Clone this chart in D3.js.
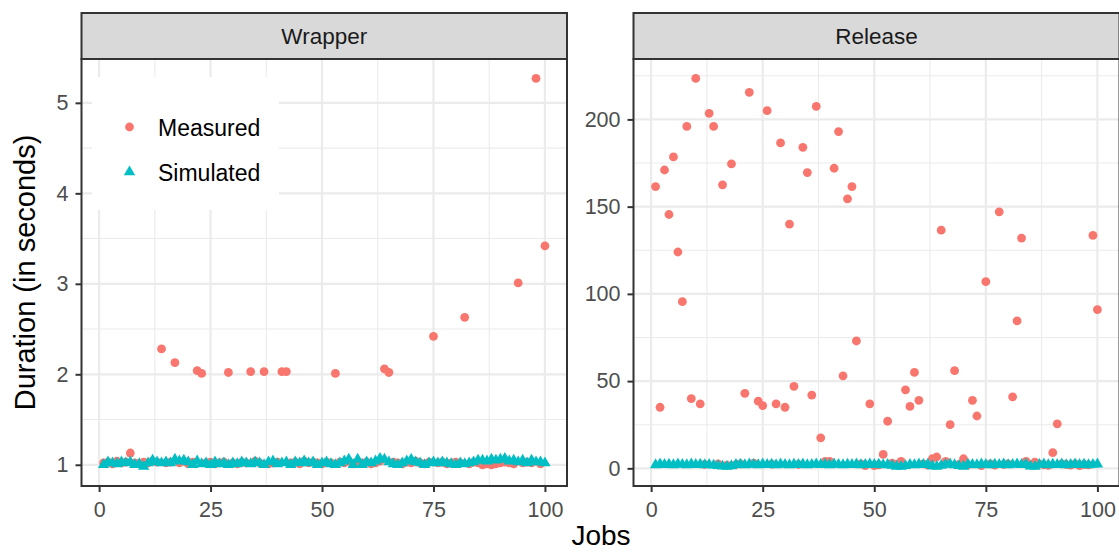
<!DOCTYPE html>
<html>
<head>
<meta charset="utf-8">
<script src="https://cdn.jsdelivr.net/npm/d3@7"></script>
<style>
  html, body { margin: 0; padding: 0; background: #fff; }
  svg { display: block; font-family: "Liberation Sans", Arial, Helvetica, sans-serif; }
</style>
</head>
<body>
<svg id="chart" width="1119" height="552"></svg>
<script>
// ---------------- data ----------------
const jobs = d3.range(1, 101);

const wrapperMeasured = [
  1.02, 1.03, 1.01, 1.04, 1.02, 1.03, 1.13, 1.02, 1.01, 1.03,
  1.02, 1.04, 1.03, 2.28, 1.02, 1.03, 2.13, 1.02, 1.04, 1.01,
  1.03, 2.04, 2.01, 1.02, 1.03, 1.01, 1.02, 1.03, 2.02, 1.02,
  1.01, 1.03, 1.02, 2.03, 1.04, 1.02, 2.03, 1.01, 1.02, 1.03,
  2.03, 2.03, 1.02, 1.03, 1.01, 1.04, 1.02, 1.03, 1.02, 1.01,
  1.03, 1.02, 2.01, 1.03, 1.02, 1.04, 1.01, 1.03, 1.02, 1.03,
  1.01, 1.02, 1.04, 2.06, 2.02, 1.03, 1.02, 1.01, 1.03, 1.02,
  1.04, 1.02, 1.01, 1.03, 2.42, 1.02, 1.03, 1.01, 1.02, 1.03,
  1.02, 2.63, 1.01, 1.03, 1.02, 1.00, 1.01, 1.00, 1.01, 1.02,
  1.03, 1.02, 1.01, 3.01, 1.02, 1.03, 1.02, 5.27, 1.01, 3.42
];

const wrapperSimulated = [
  1.00, 1.03, 1.02, 1.01, 1.03, 1.02, 1.03, 1.00, 1.01, 0.98,
  1.02, 1.05, 1.03, 1.02, 1.03, 1.02, 1.06, 1.04, 1.05, 1.03,
  1.00, 1.04, 1.01, 1.02, 1.00, 1.03, 1.01, 1.02, 1.00, 1.02,
  1.01, 1.03, 1.02, 1.01, 1.03, 1.02, 1.00, 1.03, 1.04, 1.01,
  1.02, 1.03, 1.00, 1.03, 1.02, 1.04, 1.02, 1.03, 1.00, 1.02,
  1.03, 1.01, 1.00, 1.02, 1.04, 1.06, 1.00, 1.06, 1.00, 1.03,
  1.02, 1.04, 1.07, 1.06, 1.03, 1.01, 1.00, 1.02, 1.04, 1.06,
  1.03, 1.02, 1.00, 1.02, 1.03, 1.02, 1.03, 1.02, 1.01, 1.00,
  1.02, 1.01, 1.02, 1.03, 1.05, 1.05, 1.04, 1.06, 1.05, 1.06,
  1.07, 1.04, 1.05, 1.03, 1.05, 1.02, 1.05, 1.03, 1.03, 1.02
];

const releaseMeasured = [
  161.5, 35, 171, 145.5, 178.5, 124, 95.5, 196, 40, 223.5,
  37, 2.2, 203.5, 196, 2.5, 162.5, 1.8, 174.5, 2.1, 2.6,
  43, 215.5, 3.0, 38.5, 36, 205, 2.4, 37, 186.5, 35,
  140, 47, 2.2, 184, 169.5, 42, 207.5, 17.5, 4, 4,
  172, 193, 53, 154.5, 161.5, 73, 2.5, 1.5, 37, 1.6,
  2.0, 8, 27, 3.0, 2.2, 4, 45, 35.5, 55, 39,
  2.5, 1.8, 5.5, 6.5, 136.5, 4, 25, 56, 2.3, 5.5,
  2.0, 39, 30, 1.6, 107, 2.5, 1.8, 147, 2.2, 2.6,
  41, 84.5, 132, 4, 2.1, 3.5, 2.4, 2.0, 1.7, 9,
  25.5, 2.5, 2.2, 1.8, 2.6, 1.6, 2.2, 2.0, 133.5, 91
];

const releaseSimulated = [
  2.0, 2.4, 2.1, 2.3, 2.0, 2.5, 2.2, 2.0, 2.4, 2.1,
  2.3, 2.0, 2.2, 1.8, 1.5, 1.2, 1.0, 1.4, 2.1, 2.3,
  2.0, 2.4, 2.2, 2.0, 2.5, 2.1, 2.3, 2.0, 2.4, 2.2,
  2.0, 2.3, 2.1, 2.4, 2.0, 2.2, 2.5, 2.1, 2.3, 2.0,
  2.4, 2.2, 2.0, 2.3, 2.1, 2.4, 2.0, 2.2, 2.5, 2.1,
  2.3, 2.0, 2.2, 1.6, 1.1, 1.0, 1.5, 2.2, 2.0, 2.4,
  2.1, 2.3, 1.4, 1.0, 1.6, 2.2, 2.4, 2.0, 1.5, 1.1,
  2.3, 2.1, 2.0, 2.4, 2.2, 2.0, 2.3, 2.1, 2.4, 2.0,
  2.2, 2.5, 2.1, 2.3, 1.2, 1.0, 2.2, 2.4, 2.0, 2.3,
  2.1, 2.4, 2.0, 2.2, 2.5, 2.1, 2.3, 2.0, 2.2, 2.4
];

const panelNames = ["Wrapper", "Release"];
const seriesNames = ["Measured", "Simulated"];
const xTicks = [0, 25, 50, 75, 100];
const xMinorTicks = [12.5, 37.5, 62.5, 87.5];
const wrapperYTicks = [1, 2, 3, 4, 5];
const wrapperYMinor = [1.5, 2.5, 3.5, 4.5];
const releaseYTicks = [0, 50, 100, 150, 200];
const releaseYMinor = [25, 75, 125, 175, 225];

// ---------------- layout ----------------
const colors = { Measured: "#F8766D", Simulated: "#00BFC4" };
const panelTop = 59, panelBottom = 486;
const stripTop = 13;
const panels = [
  { name: panelNames[0], x0: 81.5, x1: 567, measured: wrapperMeasured, simulated: wrapperSimulated,
    yTicks: wrapperYTicks, yMinor: wrapperYMinor },
  { name: panelNames[1], x0: 633.5, x1: 1119.5, measured: releaseMeasured, simulated: releaseSimulated,
    yTicks: releaseYTicks, yMinor: releaseYMinor }
];

const svg = d3.select("#chart");
const tickFont = 21.5, stripFont = 22.5, legendFont = 23, titleFont = 29;
const triangle = d3.symbol().type(d3.symbolTriangle).size(56);
const pointR = 4.4;

function expand(ext, f) {
  const r = ext[1] - ext[0];
  return [ext[0] - r * f, ext[1] + r * f];
}

panels.forEach(p => {
  const all = p.measured.concat(p.simulated);
  const x = d3.scaleLinear().domain(expand([1, 100], 0.05)).range([p.x0, p.x1]);
  const y = d3.scaleLinear().domain(expand(d3.extent(all), 0.05)).range([panelBottom, panelTop]);
  const g = svg.append("g");

  g.append("rect").attr("x", p.x0).attr("y", panelTop)
    .attr("width", p.x1 - p.x0).attr("height", panelBottom - panelTop).attr("fill", "#fff");

  // minor grid
  g.selectAll(".vminor").data(xMinorTicks).join("line")
    .attr("x1", d => x(d)).attr("x2", d => x(d)).attr("y1", panelTop).attr("y2", panelBottom)
    .attr("stroke", "#EBEBEB").attr("stroke-width", 1.1);
  g.selectAll(".hminor").data(p.yMinor.filter(v => y(v) > panelTop && y(v) < panelBottom)).join("line")
    .attr("x1", p.x0).attr("x2", p.x1).attr("y1", d => y(d)).attr("y2", d => y(d))
    .attr("stroke", "#EBEBEB").attr("stroke-width", 1.1);
  // major grid
  g.selectAll(".vmajor").data(xTicks).join("line")
    .attr("x1", d => x(d)).attr("x2", d => x(d)).attr("y1", panelTop).attr("y2", panelBottom)
    .attr("stroke", "#EBEBEB").attr("stroke-width", 2.2);
  g.selectAll(".hmajor").data(p.yTicks).join("line")
    .attr("x1", p.x0).attr("x2", p.x1).attr("y1", d => y(d)).attr("y2", d => y(d))
    .attr("stroke", "#EBEBEB").attr("stroke-width", 2.2);

  // points
  const clipId = "clip-" + p.name;
  svg.append("clipPath").attr("id", clipId).append("rect")
    .attr("x", p.x0).attr("y", panelTop).attr("width", p.x1 - p.x0).attr("height", panelBottom - panelTop);
  const pts = g.append("g").attr("clip-path", `url(#${clipId})`);
  pts.selectAll("circle").data(jobs).join("circle")
    .attr("cx", d => x(d)).attr("cy", (d, i) => y(p.measured[i]))
    .attr("r", pointR).attr("fill", colors.Measured);
  pts.selectAll("path").data(jobs).join("path")
    .attr("d", triangle)
    .attr("transform", (d, i) => `translate(${x(d)},${y(p.simulated[i])})`)
    .attr("fill", colors.Simulated);

  // panel border
  g.append("rect").attr("x", p.x0).attr("y", panelTop)
    .attr("width", p.x1 - p.x0).attr("height", panelBottom - panelTop)
    .attr("fill", "none").attr("stroke", "#333333").attr("stroke-width", 2);

  // strip
  g.append("rect").attr("x", p.x0).attr("y", stripTop)
    .attr("width", p.x1 - p.x0).attr("height", panelTop - stripTop)
    .attr("fill", "#D9D9D9").attr("stroke", "#333333").attr("stroke-width", 2);
  g.append("text").attr("x", (p.x0 + p.x1) / 2).attr("y", (stripTop + panelTop) / 2)
    .attr("dy", "0.35em").attr("text-anchor", "middle")
    .attr("font-size", stripFont).attr("fill", "#1A1A1A").text(p.name);

  // axes
  const ax = g.append("g").attr("transform", `translate(0,${panelBottom})`)
    .call(d3.axisBottom(x).tickValues(xTicks).tickSize(6).tickPadding(10).tickFormat(d3.format("d")));
  const ay = g.append("g").attr("transform", `translate(${p.x0},0)`)
    .call(d3.axisLeft(y).tickValues(p.yTicks).tickSize(6).tickPadding(7).tickFormat(d3.format("d")));
  [ax, ay].forEach(a => {
    a.select(".domain").remove();
    a.selectAll(".tick line").attr("stroke", "#333333").attr("stroke-width", 2);
    a.selectAll(".tick text").attr("fill", "#4D4D4D").attr("font-size", tickFont)
      .attr("font-family", "Liberation Sans, Arial, sans-serif");
  });
});

// legend (inside left panel)
const lg = svg.append("g");
lg.append("rect").attr("x", 92).attr("y", 77).attr("width", 187).attr("height", 133).attr("fill", "#fff");
lg.append("circle").attr("cx", 129.5).attr("cy", 127).attr("r", pointR).attr("fill", colors.Measured);
lg.append("path").attr("d", triangle).attr("transform", "translate(129.5,172)").attr("fill", colors.Simulated);
seriesNames.forEach((s, i) => {
  lg.append("text").attr("x", 158).attr("y", 128 + i * 45).attr("dy", "0.35em")
    .attr("font-size", legendFont).attr("fill", "#000").text(s);
});

// axis titles
svg.append("text").attr("transform", "translate(35,272.5) rotate(-90)")
  .attr("text-anchor", "middle").attr("font-size", titleFont).attr("fill", "#000")
  .text("Duration (in seconds)");
svg.append("text").attr("x", 601).attr("y", 545)
  .attr("text-anchor", "middle").attr("font-size", 28).attr("fill", "#000").text("Jobs");
</script>
</body>
</html>
